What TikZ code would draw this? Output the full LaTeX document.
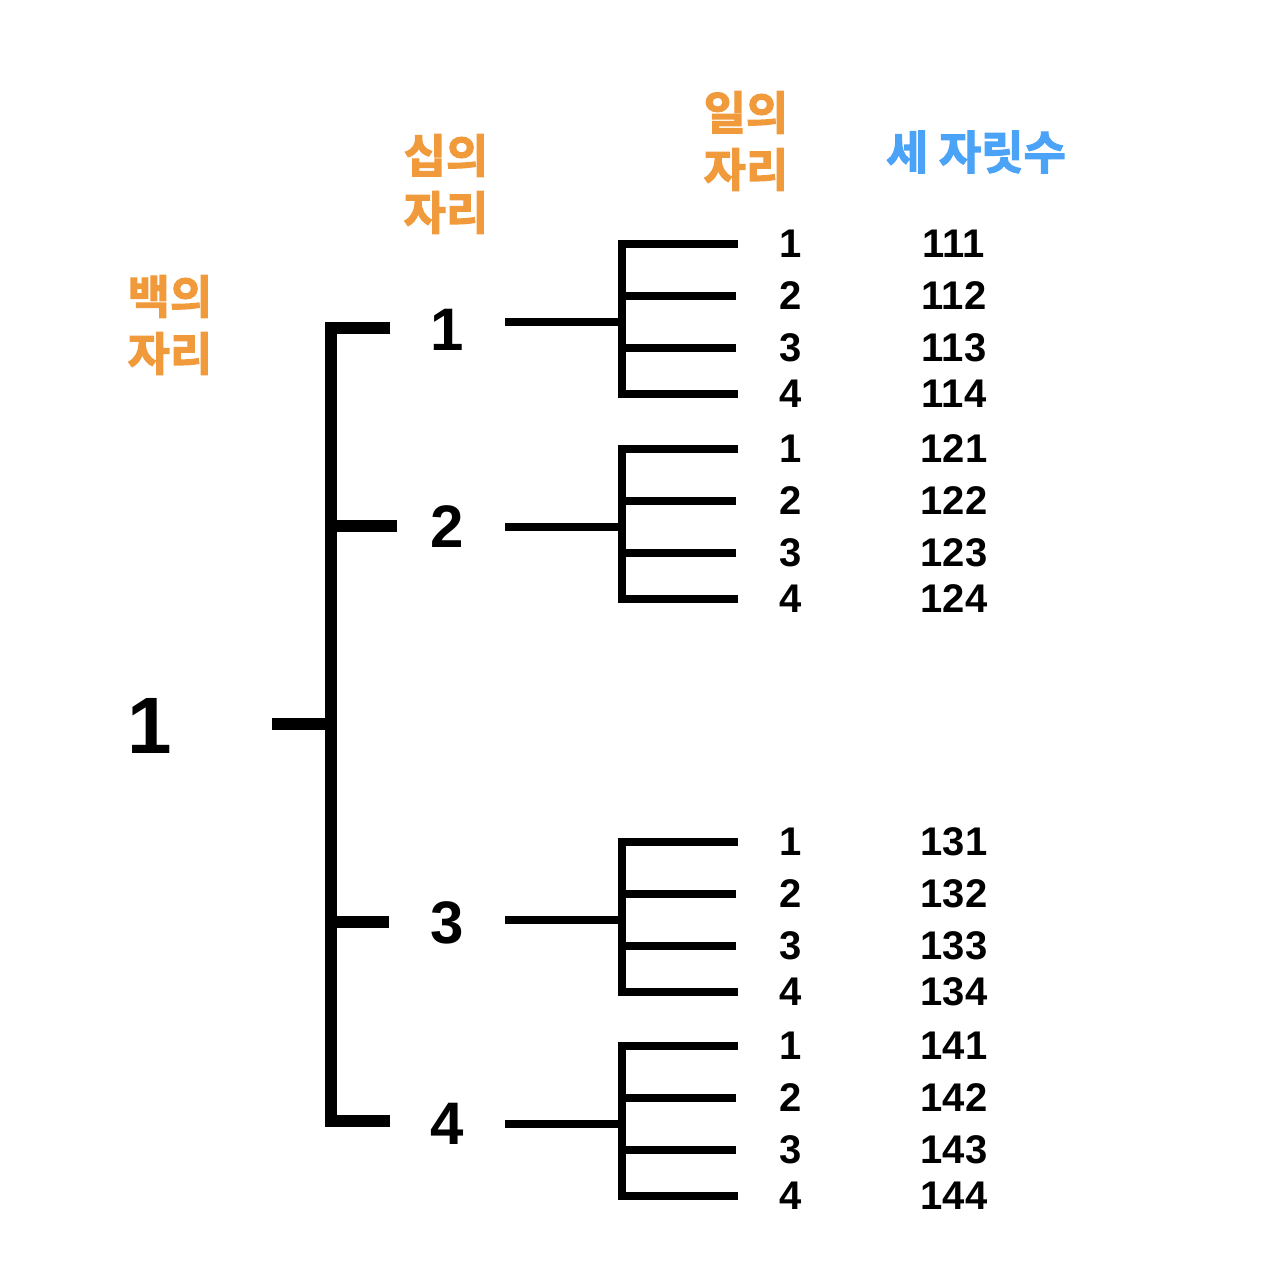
\documentclass[tikz,border=0pt]{standalone}
\usepackage{fontspec}
\setmainfont{Liberation Sans}
\newfontfamily\kr{Noto Sans CJK KR}[UprightFont=* Bold,FakeBold=2.5]
\definecolor{orn}{HTML}{F09A3C}
\definecolor{blu}{HTML}{4BA3F8}
\begin{document}
\begin{tikzpicture}[x=1pt,y=-1pt,
  thickbar/.style={line width=12pt},
  thinbar/.style={line width=8pt},
  rootlbl/.style={inner sep=0pt,font=\bfseries\fontsize{80}{80}\selectfont},
  tenlbl/.style={inner sep=0pt,font=\bfseries\fontsize{60}{60}\selectfont},
  unitlbl/.style={inner sep=0pt,font=\bfseries\fontsize{40}{40}\selectfont},
  kor/.style={inner sep=0pt,align=center,font=\kr\fontsize{46}{57}\selectfont}]
\useasboundingbox (0,0) rectangle (1262,1272);
% headings
\node[kor,text=orn] (hh) at (170,325) {백의\\자리};
\node[kor,text=orn] (ht) at (446,184) {십의\\자리};
\node[kor,text=orn] (hu) at (746,141) {일의\\자리};
\node[kor,text=blu] (hn) at (976,152) {세 자릿수};
% root
\node[rootlbl] (r) at (150,726) {1};
\coordinate (rl) at (272,724);
\coordinate (rm) at (331,724);
\draw[thickbar] (rl) -- (rm);
% main bracket
\coordinate (mt) at (331,328);
\coordinate (mb) at (331,1121);
\coordinate (e1) at (390,328);
\coordinate (e4) at (390,1121);
\coordinate (m2) at (331,526);
\coordinate (e2) at (397,526);
\coordinate (m3) at (331,922);
\coordinate (e3) at (389,922);
\draw[thickbar] (e1) -- (mt) -- (mb) -- (e4);
\draw[thickbar] (m2) -- (e2);
\draw[thickbar] (m3) -- (e3);
% groups
\foreach \g/\c/\ty in {1/322/330,2/527/527,3/920/923,4/1124/1124}{
  \node[tenlbl] (t\g) at (447,\ty) {\g};
  \coordinate (s\g) at (505,\c);
  \coordinate (v\g) at (622,\c);
  \draw[thinbar] (s\g) -- (v\g);
  \coordinate (vt\g) at (622,{\c-78});
  \coordinate (vb\g) at (622,{\c+72});
  \coordinate (et\g) at (738,{\c-78});
  \coordinate (eb\g) at (738,{\c+72});
  \draw[thinbar] (et\g) -- (vt\g) -- (vb\g) -- (eb\g);
  \coordinate (va\g) at (622,{\c-26});
  \coordinate (ea\g) at (736,{\c-26});
  \coordinate (vc\g) at (622,{\c+26});
  \coordinate (ec\g) at (736,{\c+26});
  \draw[thinbar] (va\g) -- (ea\g);
  \draw[thinbar] (vc\g) -- (ec\g);
  \foreach \k/\o in {1/-78,2/-26,3/26,4/72}{
    \node[unitlbl] (u\g\k) at (791,{\c+\o}) {\k};
    \node[unitlbl] (n\g\k) at (954,{\c+\o}) {1\g\k};
  }
}
\end{tikzpicture}
\end{document}
